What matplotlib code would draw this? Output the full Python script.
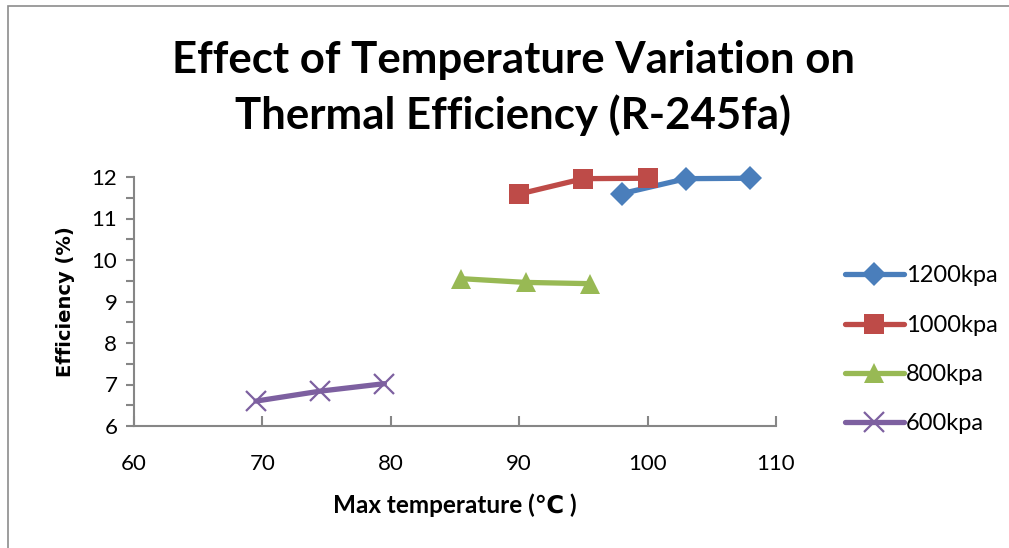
import numpy as np
import matplotlib.pyplot as plt
from matplotlib.patches import Rectangle
from matplotlib.ticker import MultipleLocator

# datos
temp_1200 = [98, 103, 108]
eff_1200 = [11.6, 11.96, 11.97]
temp_1000 = [90, 95, 100]
eff_1000 = [11.59, 11.96, 11.97]
temp_800 = [85.5, 90.5, 95.5]
eff_800 = [9.55, 9.46, 9.43]
temp_600 = [69.5, 74.5, 79.5]
eff_600 = [6.6, 6.84, 7.02]
labels = ['1200kpa', '1000kpa', '800kpa', '600kpa']

plt.rcParams['font.family'] = ['Lato', 'DejaVu Sans']

fig = plt.figure(figsize=(10.09, 5.48), dpi=100)
ax = fig.add_axes([134 / 1009, 1 - 426 / 548, (776 - 134) / 1009, (426 - 177) / 548])

# marco gris del grafico
fig.patches.append(Rectangle((8 / 1009, -0.1), 1.2, 1 - 6 / 548 + 0.1, transform=fig.transFigure,
                             fill=False, edgecolor='#8c8c8c', lw=1.2))

series = [
    (temp_1200, eff_1200, '#4A7EBB', 'D', 12),
    (temp_1000, eff_1000, '#BE4B48', 's', 14),
    (temp_800, eff_800, '#98B954', '^', 15),
    (temp_600, eff_600, '#7D60A0', 'x', 14),
]
for (x, y, c, m, ms), lab in zip(series, labels):
    ax.plot(x, y, color=c, lw=3.8, marker=m, markersize=ms, markeredgewidth=1.6 if m == 'x' else 0,
            markerfacecolor=c, markeredgecolor=c, label=lab, solid_capstyle='round', clip_on=False)

ax.set_xlim(60, 110)
ax.set_ylim(6, 12)
ax.xaxis.set_major_locator(MultipleLocator(10))
ax.yaxis.set_major_locator(MultipleLocator(1))
ax.yaxis.set_minor_locator(MultipleLocator(0.5))

for s in ['top', 'right']:
    ax.spines[s].set_visible(False)
for s in ['left', 'bottom']:
    ax.spines[s].set_color('#868686')
    ax.spines[s].set_linewidth(1.5)

ax.tick_params(axis='x', direction='in', length=7, width=1.5, color='#868686', labelsize=16, pad=20)
ax.tick_params(axis='y', which='both', direction='out', length=6, width=1.5, color='#868686', labelsize=16, pad=6)

ax.set_xlabel('Max temperature (℃ )', fontsize=17.5, fontweight='bold', labelpad=14)
ax.set_ylabel('Efficiency (%)', fontsize=14, fontweight='bold', family='DejaVu Sans', labelpad=12)

fig.text(513 / 1009, 1 - 60 / 548, 'Effect of Temperature Variation on', ha='center', va='center',
         fontsize=31.5, fontweight='bold')
fig.text(513 / 1009, 1 - 115 / 548, 'Thermal Efficiency (R-245fa)', ha='center', va='center',
         fontsize=31.5, fontweight='bold')

ax.legend(loc='center left', bbox_to_anchor=(833 / 1009, 1 - 350 / 548), bbox_transform=fig.transFigure,
          frameon=False, fontsize=17, handlelength=2.5, labelspacing=1.2, handletextpad=0.1, borderpad=0)

fig.savefig('out.png', dpi=100)
